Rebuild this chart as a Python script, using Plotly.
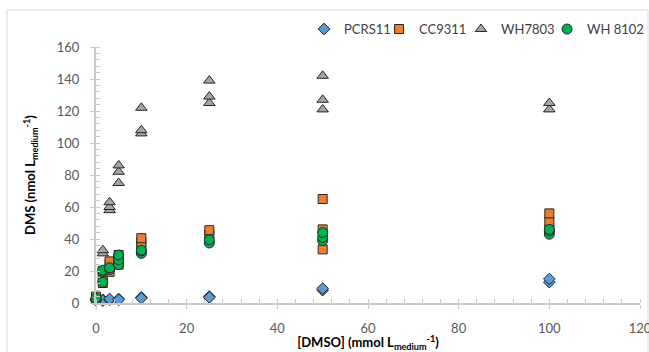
import plotly.graph_objects as go

# Data
pcrs_x = [0, 0, 1.5, 1.5, 3, 3, 5, 5, 10, 10, 25, 25, 50, 50, 100, 100]
pcrs_y = [2, 2.5, 2, 1.5, 2, 2.5, 2.5, 2, 3.5, 3, 4, 3.5, 8, 9, 13, 15]

cc_x = [0, 0, 1.5, 1.5, 1.5, 3, 3, 3, 5, 5, 5, 10, 10, 10, 25, 25, 50, 50, 50, 100, 100, 100]
cc_y = [3, 4, 12.5, 16, 20, 19.5, 24, 26, 24, 28, 30, 36, 38, 40.5, 43, 45.5, 33.5, 46, 65, 46, 51, 56]

wh78_x = [0, 1.5, 1.5, 3, 3, 3, 5, 5, 5, 10, 10, 10, 25, 25, 25, 50, 50, 50, 100, 100]
wh78_y = [3, 31, 33, 58, 60, 63, 75, 82, 86, 106, 108, 122, 125, 129, 139, 121, 127, 142, 121, 125]

wh81_x = [0, 0, 1.5, 1.5, 1.5, 3, 3, 5, 5, 5, 10, 10, 10, 25, 25, 50, 50, 50, 100, 100, 100]
wh81_y = [2, 3, 13, 19.5, 20.5, 21, 22, 24, 27, 30, 31, 32.5, 33, 37.5, 39.5, 39, 41, 44, 43, 45, 46]

x_ticks = [0, 20, 40, 60, 80, 100, 120]
y_ticks = [0, 20, 40, 60, 80, 100, 120, 140, 160]

outline = dict(color="#262626", width=1)
fig = go.Figure()
fig.add_trace(go.Scatter(x=pcrs_x, y=pcrs_y, mode="markers", name="PCRS11", cliponaxis=False,
                         legendwidth=30,
                         marker=dict(symbol="diamond", size=9, color="#5b9bd5", line=outline)))
fig.add_trace(go.Scatter(x=cc_x, y=cc_y, mode="markers", name="CC9311", cliponaxis=False,
                         legendwidth=37,
                         marker=dict(symbol="square", size=9, color="#ed7d31", line=outline)))
fig.add_trace(go.Scatter(x=wh78_x, y=wh78_y, mode="markers", name="WH7803", cliponaxis=False,
                         legendwidth=41,
                         marker=dict(symbol="triangle-up", size=10, color="#a5a5a5", line=outline)))
fig.add_trace(go.Scatter(x=wh81_x, y=wh81_y, mode="markers", name="WH 8102", cliponaxis=False,
                         legendwidth=60,
                         marker=dict(symbol="circle", size=10, color="#00b050", line=outline)))

font_family = "Lato, Open Sans, sans-serif"
axis_common = dict(showline=True, linecolor="#c8c8c8", linewidth=2, showgrid=False, zeroline=False,
                   automargin=False, ticklabeloverflow="allow",
                   ticks="outside", ticklen=4, tickcolor="#c8c8c8", tickwidth=1,
                   ticklabelstandoff=8,
                   tickfont=dict(size=13, color="#595959", family=font_family),
                   minor=dict(ticks="inside", ticklen=4, dtick=4, tickcolor="#c8c8c8"))

fig.update_xaxes(range=[0, 120], tickvals=x_ticks,
                 title=dict(text="<b>[DMSO] (mmol L<sub>medium</sub><sup>-1</sup>)</b>",
                            font=dict(size=13, color="#000000", family=font_family), standoff=4),
                 **axis_common)
fig.update_yaxes(range=[0, 160], tickvals=y_ticks,
                 title=dict(text="<b>DMS (nmol L<sub>medium</sub><sup>-1</sup>)</b>",
                            font=dict(size=13, color="#000000", family=font_family), standoff=18),
                 **axis_common)

fig.update_layout(
    width=649, height=352,
    margin=dict(l=96, r=9, t=47, b=49, autoexpand=False),
    paper_bgcolor="white", plot_bgcolor="white",
    showlegend=True,
    legend=dict(orientation="h", x=0.3824, xanchor="left", y=1.07, yanchor="middle",
                font=dict(size=13, color="#404040", family=font_family),
                itemwidth=30, tracegroupgap=0, bgcolor="rgba(0,0,0,0)"),
    shapes=[dict(type="rect", xref="paper", yref="paper",
                 x0=-0.1636, x1=1.0147, y0=-0.3, y1=1.1445,
                 line=dict(color="#d9d9d9", width=1), fillcolor="rgba(0,0,0,0)", layer="below")],
)

fig.write_html("out.html", config={"displayModeBar": False})

# remove the default page margin so the figure fills the window exactly
with open("out.html", "r", encoding="utf-8") as f:
    html = f.read()
html = html.replace("<body>", '<body style="margin:0;padding:0;overflow:hidden">', 1)
with open("out.html", "w", encoding="utf-8") as f:
    f.write(html)
